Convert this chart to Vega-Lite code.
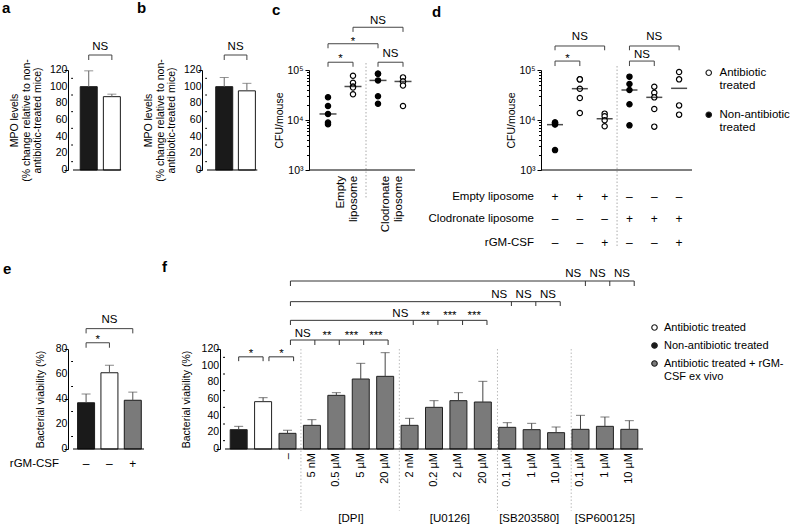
{
"$schema": "https://vega.github.io/schema/vega-lite/v6.json",
"background": "white",
"padding": {"left": 2, "top": 0, "right": 2, "bottom": 0},
"config": {
  "font": "Liberation Sans",
  "view": {"stroke": null},
  "axisX": {"disable": true},
  "axisY": {"domainColor": "#000", "tickColor": "#000", "labelColor": "#000", "titleColor": "#000", "labelFontSize": 10.5, "titleFontSize": 10.5, "titleFontWeight": "normal", "labelPadding": 2, "titlePadding": 2, "grid": false, "labelOverlap": false, "tickSize": 4},
  "title": {"anchor": "start", "frame": "group", "fontSize": 15, "fontWeight": "bold", "baseline": "alphabetic", "offset": 0, "color": "#000"},
  "text": {"fontSize": 11.5, "color": "#000"},
  "legend": {"labelFontSize": 11.5, "labelColor": "#000", "symbolType": "circle", "symbolStrokeColor": "#222", "symbolStrokeWidth": 1.2, "symbolSize": 30, "padding": 0}
},
"datasets": {
  "major120": [{"v": 0}, {"v": 20}, {"v": 40}, {"v": 60}, {"v": 80}, {"v": 100}, {"v": 120}],
  "major80": [{"v": 0}, {"v": 20}, {"v": 40}, {"v": 60}, {"v": 80}],
  "minor120": [{"v": 10}, {"v": 30}, {"v": 50}, {"v": 70}, {"v": 90}, {"v": 110}],
  "minor80": [{"v": 10}, {"v": 30}, {"v": 50}, {"v": 70}],
  "a_bars": [{"pos": 1, "treat": "Non-antibiotic treated", "mean": 100, "err": 119}, {"pos": 2, "treat": "Antibiotic treated", "mean": 88, "err": 91}],
  "b_bars": [{"pos": 1, "treat": "Non-antibiotic treated", "mean": 100, "err": 111}, {"pos": 2, "treat": "Antibiotic treated", "mean": 95, "err": 104}],
  "ab_seg": [{"x": 1, "x2": 1, "y": 132, "y2": 138}, {"x": 1, "x2": 2, "y": 138, "y2": 138}, {"x": 2, "x2": 2, "y": 132, "y2": 138}],
  "ab_lab": [{"x": 1.5, "y": 149, "label": "NS"}],
  "c_pts": [
    {"grp": 1, "slot": 0, "cfu": 28500, "treat": "Non-antibiotic treated"},
    {"grp": 1, "slot": 0, "cfu": 19000, "treat": "Non-antibiotic treated"},
    {"grp": 1, "slot": 0, "cfu": 13200, "treat": "Non-antibiotic treated"},
    {"grp": 1, "slot": -1, "cfu": 8250, "treat": "Non-antibiotic treated"},
    {"grp": 1, "slot": 1, "cfu": 8900, "treat": "Non-antibiotic treated"},
    {"grp": 2, "slot": -1, "cfu": 76900, "treat": "Antibiotic treated"},
    {"grp": 2, "slot": 1, "cfu": 55500, "treat": "Antibiotic treated"},
    {"grp": 2, "slot": -1, "cfu": 46800, "treat": "Antibiotic treated"},
    {"grp": 2, "slot": 1, "cfu": 44700, "treat": "Antibiotic treated"},
    {"grp": 2, "slot": 0, "cfu": 32700, "treat": "Antibiotic treated"},
    {"grp": 3, "slot": -1, "cfu": 84300, "treat": "Non-antibiotic treated"},
    {"grp": 3, "slot": 1, "cfu": 84300, "treat": "Non-antibiotic treated"},
    {"grp": 3, "slot": 0, "cfu": 61900, "treat": "Non-antibiotic treated"},
    {"grp": 3, "slot": 1, "cfu": 29800, "treat": "Non-antibiotic treated"},
    {"grp": 3, "slot": -1, "cfu": 21200, "treat": "Non-antibiotic treated"},
    {"grp": 4, "slot": 0, "cfu": 71100, "treat": "Antibiotic treated"},
    {"grp": 4, "slot": -1, "cfu": 59000, "treat": "Antibiotic treated"},
    {"grp": 4, "slot": 1, "cfu": 59000, "treat": "Antibiotic treated"},
    {"grp": 4, "slot": 0, "cfu": 49000, "treat": "Antibiotic treated"},
    {"grp": 4, "slot": 0, "cfu": 19000, "treat": "Antibiotic treated"}
  ],
  "c_med": [{"grp": 1, "cfu": 13200}, {"grp": 2, "cfu": 46800}, {"grp": 3, "cfu": 61900}, {"grp": 4, "cfu": 59000}],
  "c_seg": [
    {"x": 1, "x2": 1, "y": 116000, "y2": 143000}, {"x": 1, "x2": 2, "y": 143000, "y2": 143000}, {"x": 2, "x2": 2, "y": 116000, "y2": 143000},
    {"x": 1, "x2": 1, "y": 272000, "y2": 335000}, {"x": 1, "x2": 3, "y": 335000, "y2": 335000}, {"x": 3, "x2": 3, "y": 272000, "y2": 335000},
    {"x": 2, "x2": 2, "y": 578000, "y2": 716000}, {"x": 2, "x2": 4, "y": 716000, "y2": 716000}, {"x": 4, "x2": 4, "y": 578000, "y2": 716000},
    {"x": 3, "x2": 3, "y": 116000, "y2": 143000}, {"x": 3, "x2": 4, "y": 143000, "y2": 143000}, {"x": 4, "x2": 4, "y": 116000, "y2": 143000}
  ],
  "c_lab": [{"x": 1.5, "y": 194500, "label": "*"}, {"x": 2, "y": 436500, "label": "*"}, {"x": 3, "y": 1023000, "label": "NS"}, {"x": 3.5, "y": 217000, "label": "NS"}],
  "c_xl": [{"pos": 1.5, "lines": ["Empty", "liposome"]}, {"pos": 3.3, "lines": ["Clodronate", "liposome"]}],
  "d_pts": [
    {"grp": 1, "slot": -1, "cfu": 8900, "treat": "Non-antibiotic treated"},
    {"grp": 1, "slot": 1, "cfu": 8900, "treat": "Non-antibiotic treated"},
    {"grp": 1, "slot": 0, "cfu": 8100, "treat": "Non-antibiotic treated"},
    {"grp": 1, "slot": 0, "cfu": 8300, "treat": "Non-antibiotic treated"},
    {"grp": 1, "slot": 0, "cfu": 2500, "treat": "Non-antibiotic treated"},
    {"grp": 2, "slot": -1, "cfu": 65000, "treat": "Antibiotic treated"},
    {"grp": 2, "slot": 1, "cfu": 65000, "treat": "Antibiotic treated"},
    {"grp": 2, "slot": 0, "cfu": 42300, "treat": "Antibiotic treated"},
    {"grp": 2, "slot": 0, "cfu": 27500, "treat": "Antibiotic treated"},
    {"grp": 2, "slot": 0, "cfu": 13800, "treat": "Antibiotic treated"},
    {"grp": 3, "slot": -1, "cfu": 13400, "treat": "Antibiotic treated"},
    {"grp": 3, "slot": 2, "cfu": 11900, "treat": "Antibiotic treated"},
    {"grp": 3, "slot": 1, "cfu": 9860, "treat": "Antibiotic treated"},
    {"grp": 3, "slot": -1, "cfu": 7480, "treat": "Antibiotic treated"},
    {"grp": 4, "slot": 0, "cfu": 73600, "treat": "Non-antibiotic treated"},
    {"grp": 4, "slot": 1, "cfu": 52500, "treat": "Non-antibiotic treated"},
    {"grp": 4, "slot": -1, "cfu": 39800, "treat": "Non-antibiotic treated"},
    {"grp": 4, "slot": 0, "cfu": 20600, "treat": "Non-antibiotic treated"},
    {"grp": 4, "slot": 0, "cfu": 7820, "treat": "Non-antibiotic treated"},
    {"grp": 5, "slot": 0, "cfu": 46400, "treat": "Antibiotic treated"},
    {"grp": 5, "slot": 1, "cfu": 35200, "treat": "Antibiotic treated"},
    {"grp": 5, "slot": -1, "cfu": 28400, "treat": "Antibiotic treated"},
    {"grp": 5, "slot": 0, "cfu": 16600, "treat": "Antibiotic treated"},
    {"grp": 5, "slot": 0, "cfu": 7360, "treat": "Antibiotic treated"},
    {"grp": 6, "slot": 1, "cfu": 91200, "treat": "Antibiotic treated"},
    {"grp": 6, "slot": -1, "cfu": 65000, "treat": "Antibiotic treated"},
    {"grp": 6, "slot": 0, "cfu": 19600, "treat": "Antibiotic treated"},
    {"grp": 6, "slot": 0, "cfu": 12800, "treat": "Antibiotic treated"}
  ],
  "d_med": [{"grp": 1, "cfu": 8070}, {"grp": 2, "cfu": 42300}, {"grp": 3, "cfu": 10600}, {"grp": 4, "cfu": 39800}, {"grp": 5, "cfu": 28400}, {"grp": 6, "cfu": 43000}],
  "d_seg": [
    {"x": 1, "x2": 1, "y": 120000, "y2": 151000}, {"x": 1, "x2": 2, "y": 151000, "y2": 151000}, {"x": 2, "x2": 2, "y": 120000, "y2": 151000},
    {"x": 1, "x2": 1, "y": 248000, "y2": 302000}, {"x": 1, "x2": 3, "y": 302000, "y2": 302000}, {"x": 3, "x2": 3, "y": 248000, "y2": 302000},
    {"x": 4, "x2": 4, "y": 120000, "y2": 151000}, {"x": 4, "x2": 5, "y": 151000, "y2": 151000}, {"x": 5, "x2": 5, "y": 120000, "y2": 151000},
    {"x": 4, "x2": 4, "y": 248000, "y2": 302000}, {"x": 4, "x2": 6, "y": 302000, "y2": 302000}, {"x": 6, "x2": 6, "y": 248000, "y2": 302000}
  ],
  "d_lab": [{"x": 1.5, "y": 202000, "label": "*"}, {"x": 2, "y": 472000, "label": "NS"}, {"x": 4.5, "y": 212000, "label": "NS"}, {"x": 5, "y": 472000, "label": "NS"}],
  "d_tab": [
    {"grp": 1, "row": "Empty liposome", "sign": "+"}, {"grp": 2, "row": "Empty liposome", "sign": "+"}, {"grp": 3, "row": "Empty liposome", "sign": "+"},
    {"grp": 4, "row": "Empty liposome", "sign": "–"}, {"grp": 5, "row": "Empty liposome", "sign": "–"}, {"grp": 6, "row": "Empty liposome", "sign": "–"},
    {"grp": 1, "row": "Clodronate liposome", "sign": "–"}, {"grp": 2, "row": "Clodronate liposome", "sign": "–"}, {"grp": 3, "row": "Clodronate liposome", "sign": "–"},
    {"grp": 4, "row": "Clodronate liposome", "sign": "+"}, {"grp": 5, "row": "Clodronate liposome", "sign": "+"}, {"grp": 6, "row": "Clodronate liposome", "sign": "+"},
    {"grp": 1, "row": "rGM-CSF", "sign": "–"}, {"grp": 2, "row": "rGM-CSF", "sign": "–"}, {"grp": 3, "row": "rGM-CSF", "sign": "+"},
    {"grp": 4, "row": "rGM-CSF", "sign": "–"}, {"grp": 5, "row": "rGM-CSF", "sign": "–"}, {"grp": 6, "row": "rGM-CSF", "sign": "+"}
  ],
  "e_bars": [
    {"pos": 1, "treat": "Non-antibiotic treated", "rgm": "–", "mean": 37, "err": 44},
    {"pos": 2, "treat": "Antibiotic treated", "rgm": "–", "mean": 61, "err": 67},
    {"pos": 3, "treat": "Antibiotic treated + rGM-CSF ex vivo", "rgm": "+", "mean": 39, "err": 45.5}
  ],
  "e_seg": [
    {"x": 1, "x2": 1, "y": 81, "y2": 85}, {"x": 1, "x2": 2, "y": 85, "y2": 85}, {"x": 2, "x2": 2, "y": 81, "y2": 85},
    {"x": 1, "x2": 1, "y": 92.5, "y2": 96.3}, {"x": 1, "x2": 3, "y": 96.3, "y2": 96.3}, {"x": 3, "x2": 3, "y": 92.5, "y2": 96.3}
  ],
  "e_lab": [{"x": 1.5, "y": 90.4, "label": "*"}, {"x": 2, "y": 103.8, "label": "NS"}],
  "f_bars": [
    {"pos": 1, "treat": "Non-antibiotic treated", "drug": "", "dose": "", "mean": 23.2, "err": 27.2},
    {"pos": 2, "treat": "Antibiotic treated", "drug": "", "dose": "", "mean": 56.8, "err": 61.6},
    {"pos": 3, "treat": "Antibiotic treated + rGM-CSF ex vivo", "drug": "none", "dose": "–", "mean": 18.8, "err": 22.4},
    {"pos": 4, "treat": "Antibiotic treated + rGM-CSF ex vivo", "drug": "DPI", "dose": "5 nM", "mean": 28.4, "err": 35.2},
    {"pos": 5, "treat": "Antibiotic treated + rGM-CSF ex vivo", "drug": "DPI", "dose": "0.5 µM", "mean": 64.4, "err": 67.6},
    {"pos": 6, "treat": "Antibiotic treated + rGM-CSF ex vivo", "drug": "DPI", "dose": "5 µM", "mean": 84, "err": 102.8},
    {"pos": 7, "treat": "Antibiotic treated + rGM-CSF ex vivo", "drug": "DPI", "dose": "20 µM", "mean": 87.2, "err": 115.6},
    {"pos": 8, "treat": "Antibiotic treated + rGM-CSF ex vivo", "drug": "U0126", "dose": "2 nM", "mean": 28.4, "err": 36.8},
    {"pos": 9, "treat": "Antibiotic treated + rGM-CSF ex vivo", "drug": "U0126", "dose": "0.2 µM", "mean": 50, "err": 58},
    {"pos": 10, "treat": "Antibiotic treated + rGM-CSF ex vivo", "drug": "U0126", "dose": "2 µM", "mean": 58, "err": 67.6},
    {"pos": 11, "treat": "Antibiotic treated + rGM-CSF ex vivo", "drug": "U0126", "dose": "20 µM", "mean": 56.4, "err": 81.2},
    {"pos": 12, "treat": "Antibiotic treated + rGM-CSF ex vivo", "drug": "SB203580", "dose": "0.1 µM", "mean": 26, "err": 31.6},
    {"pos": 13, "treat": "Antibiotic treated + rGM-CSF ex vivo", "drug": "SB203580", "dose": "1 µM", "mean": 23.2, "err": 30.8},
    {"pos": 14, "treat": "Antibiotic treated + rGM-CSF ex vivo", "drug": "SB203580", "dose": "10 µM", "mean": 19.6, "err": 26.4},
    {"pos": 15, "treat": "Antibiotic treated + rGM-CSF ex vivo", "drug": "SP600125", "dose": "0.1 µM", "mean": 23.6, "err": 40.4},
    {"pos": 16, "treat": "Antibiotic treated + rGM-CSF ex vivo", "drug": "SP600125", "dose": "1 µM", "mean": 27.2, "err": 38.4},
    {"pos": 17, "treat": "Antibiotic treated + rGM-CSF ex vivo", "drug": "SP600125", "dose": "10 µM", "mean": 23.6, "err": 34}
  ],
  "f_seg": [
    {"x": 1, "x2": 1, "y": 105.4, "y2": 110.6}, {"x": 1, "x2": 2, "y": 110.6, "y2": 110.6}, {"x": 2, "x2": 2, "y": 105.4, "y2": 110.6},
    {"x": 2.24, "x2": 2.24, "y": 105.4, "y2": 110.6}, {"x": 2.24, "x2": 3.25, "y": 110.6, "y2": 110.6}, {"x": 3.25, "x2": 3.25, "y": 105.4, "y2": 110.6},
    {"x": 3.12, "x2": 7.12, "y": 130.8, "y2": 130.8},
    {"x": 3.12, "x2": 3.12, "y": 124.8, "y2": 130.8}, {"x": 4.12, "x2": 4.12, "y": 124.8, "y2": 130.8}, {"x": 5.12, "x2": 5.12, "y": 124.8, "y2": 130.8}, {"x": 6.12, "x2": 6.12, "y": 124.8, "y2": 130.8}, {"x": 7.12, "x2": 7.12, "y": 124.8, "y2": 130.8},
    {"x": 3.12, "x2": 11.17, "y": 154.4, "y2": 154.4},
    {"x": 3.12, "x2": 3.12, "y": 148.8, "y2": 154.4}, {"x": 8.15, "x2": 8.15, "y": 148.8, "y2": 154.4}, {"x": 9.16, "x2": 9.16, "y": 148.8, "y2": 154.4}, {"x": 10.17, "x2": 10.17, "y": 148.8, "y2": 154.4}, {"x": 11.17, "x2": 11.17, "y": 148.8, "y2": 154.4},
    {"x": 3.12, "x2": 14.17, "y": 176.8, "y2": 176.8},
    {"x": 3.12, "x2": 3.12, "y": 171.6, "y2": 176.8}, {"x": 12.17, "x2": 12.17, "y": 171.6, "y2": 176.8}, {"x": 13.17, "x2": 13.17, "y": 171.6, "y2": 176.8}, {"x": 14.17, "x2": 14.17, "y": 171.6, "y2": 176.8},
    {"x": 3.12, "x2": 17.2, "y": 201.6, "y2": 201.6},
    {"x": 3.12, "x2": 3.12, "y": 195.6, "y2": 201.6}, {"x": 15.2, "x2": 15.2, "y": 195.6, "y2": 201.6}, {"x": 16.2, "x2": 16.2, "y": 195.6, "y2": 201.6}, {"x": 17.2, "x2": 17.2, "y": 195.6, "y2": 201.6}
  ],
  "f_lab": [
    {"x": 1.5, "y": 118.4, "label": "*"}, {"x": 2.75, "y": 118.4, "label": "*"},
    {"x": 3.62, "y": 139.6, "label": "NS"}, {"x": 4.62, "y": 139.6, "label": "**"}, {"x": 5.62, "y": 139.6, "label": "***"}, {"x": 6.62, "y": 139.6, "label": "***"},
    {"x": 7.62, "y": 163.6, "label": "NS"}, {"x": 8.65, "y": 163.6, "label": "**"}, {"x": 9.65, "y": 163.6, "label": "***"}, {"x": 10.65, "y": 163.6, "label": "***"},
    {"x": 11.67, "y": 186.4, "label": "NS"}, {"x": 12.67, "y": 186.4, "label": "NS"}, {"x": 13.67, "y": 186.4, "label": "NS"},
    {"x": 14.7, "y": 211.6, "label": "NS"}, {"x": 15.7, "y": 211.6, "label": "NS"}, {"x": 16.7, "y": 211.6, "label": "NS"}
  ],
  "f_sep": [{"x": 3.55}, {"x": 7.58}, {"x": 11.6}, {"x": 14.62}],
  "f_grp": [{"x": 5.6, "label": "[DPI]"}, {"x": 9.65, "label": "[U0126]"}, {"x": 12.9, "label": "[SB203580]"}, {"x": 16, "label": "[SP600125]"}]
},
"bounds": "flush",
"spacing": 279,
"resolve": {"scale": {"fill": "independent"}},
"vconcat": [
 {
  "bounds": "flush",
  "spacing": 0,
  "resolve": {"scale": {"fill": "independent"}},
  "hconcat": [
  {
    "title": {"text": "a", "dx": -66, "dy": -21},
    "width": 134, "height": 100,
    "layer": [
      {"data": {"name": "a_bars"}, "mark": {"type": "bar", "orient": "vertical", "size": 17, "stroke": "#1a1a1a", "strokeWidth": 1},
       "encoding": {
         "x": {"field": "pos", "type": "quantitative", "scale": {"domain": [0.32, 5.68], "nice": false, "zero": false}},
         "y": {"field": "mean", "type": "quantitative", "scale": {"domain": [0, 120], "nice": false},
               "axis": {"title": ["MPO levels", "(% change relative to non-", "antibiotic-treated mice)"], "titleLineHeight": 11.5, "labels": false, "titlePadding": 21, "values": [0, 20, 40, 60, 80, 100, 120]}},
         "fill": {"field": "treat", "type": "nominal", "scale": {"domain": ["Non-antibiotic treated", "Antibiotic treated"], "range": ["#1a1a1a", "#ffffff"]}, "legend": null}}},
      {"data": {"name": "major120"}, "mark": {"type": "text", "align": "right", "baseline": "middle", "fontSize": 10.5}, "encoding": {"x": {"datum": 0.08}, "y": {"field": "v", "type": "quantitative"}, "text": {"field": "v", "type": "quantitative"}}},
      {"data": {"name": "minor120"}, "mark": {"type": "rule", "color": "#000"}, "encoding": {"x": {"datum": 0.24}, "x2": {"datum": 0.32}, "y": {"field": "v", "type": "quantitative"}}},
      {"data": {"name": "a_bars"}, "mark": {"type": "rule", "color": "#666"}, "encoding": {"x": {"field": "pos", "type": "quantitative"}, "y": {"field": "mean", "type": "quantitative"}, "y2": {"field": "err"}}},
      {"data": {"name": "a_bars"}, "mark": {"type": "tick", "orient": "horizontal", "size": 9, "thickness": 1, "color": "#666"}, "encoding": {"x": {"field": "pos", "type": "quantitative"}, "y": {"field": "err", "type": "quantitative"}}},
      {"data": {"values": [{}]}, "mark": {"type": "rule", "color": "#000"}, "encoding": {"x": {"datum": 0.32}, "x2": {"datum": 2.4}, "y": {"datum": 0}}},
      {"data": {"name": "ab_seg"}, "mark": {"type": "rule", "color": "#444"}, "encoding": {"x": {"field": "x", "type": "quantitative"}, "x2": {"field": "x2"}, "y": {"field": "y", "type": "quantitative"}, "y2": {"field": "y2"}}},
      {"data": {"name": "ab_lab"}, "mark": {"type": "text", "baseline": "alphabetic", "dy": 4}, "encoding": {"x": {"field": "x", "type": "quantitative"}, "y": {"field": "y", "type": "quantitative"}, "text": {"field": "label"}}}
    ]
  },
  {
    "title": {"text": "b", "dx": -65, "dy": -21},
    "width": 107, "height": 100,
    "layer": [
      {"data": {"name": "b_bars"}, "mark": {"type": "bar", "orient": "vertical", "size": 17, "stroke": "#1a1a1a", "strokeWidth": 1},
       "encoding": {
         "x": {"field": "pos", "type": "quantitative", "scale": {"domain": [0.24, 4.52], "nice": false, "zero": false}},
         "y": {"field": "mean", "type": "quantitative", "scale": {"domain": [0, 120], "nice": false},
               "axis": {"title": ["MPO levels", "(% change relative to non-", "antibiotic-treated mice)"], "titleLineHeight": 11.5, "labels": false, "titlePadding": 21, "values": [0, 20, 40, 60, 80, 100, 120]}},
         "fill": {"field": "treat", "type": "nominal", "scale": {"domain": ["Non-antibiotic treated", "Antibiotic treated"], "range": ["#1a1a1a", "#ffffff"]}, "legend": null}}},
      {"data": {"name": "major120"}, "mark": {"type": "text", "align": "right", "baseline": "middle", "fontSize": 10.5}, "encoding": {"x": {"datum": 0.0}, "y": {"field": "v", "type": "quantitative"}, "text": {"field": "v", "type": "quantitative"}}},
      {"data": {"name": "minor120"}, "mark": {"type": "rule", "color": "#000"}, "encoding": {"x": {"datum": 0.16}, "x2": {"datum": 0.24}, "y": {"field": "v", "type": "quantitative"}}},
      {"data": {"name": "b_bars"}, "mark": {"type": "rule", "color": "#666"}, "encoding": {"x": {"field": "pos", "type": "quantitative"}, "y": {"field": "mean", "type": "quantitative"}, "y2": {"field": "err"}}},
      {"data": {"name": "b_bars"}, "mark": {"type": "tick", "orient": "horizontal", "size": 9, "thickness": 1, "color": "#666"}, "encoding": {"x": {"field": "pos", "type": "quantitative"}, "y": {"field": "err", "type": "quantitative"}}},
      {"data": {"values": [{}]}, "mark": {"type": "rule", "color": "#000"}, "encoding": {"x": {"datum": 0.24}, "x2": {"datum": 2.46}, "y": {"datum": 0}}},
      {"data": {"name": "ab_seg"}, "mark": {"type": "rule", "color": "#444"}, "encoding": {"x": {"field": "x", "type": "quantitative"}, "x2": {"field": "x2"}, "y": {"field": "y", "type": "quantitative"}, "y2": {"field": "y2"}}},
      {"data": {"name": "ab_lab"}, "mark": {"type": "text", "baseline": "alphabetic", "dy": 4}, "encoding": {"x": {"field": "x", "type": "quantitative"}, "y": {"field": "y", "type": "quantitative"}, "text": {"field": "label"}}}
    ]
  },
  {
    "title": {"text": "c", "dx": -37, "dy": 7},
    "width": 232, "height": 100,
    "layer": [
      {"data": {"values": [{}]}, "mark": {"type": "rule", "color": "#aaa", "strokeDash": [1.5, 2]}, "encoding": {"x": {"datum": 2.52}, "y": {"datum": 138000}, "y2": {"datum": 260}}},
      {"data": {"name": "c_pts"}, "mark": {"type": "point", "shape": "circle", "filled": true, "size": 28, "stroke": "#000", "strokeWidth": 1.2, "opacity": 1},
       "encoding": {
         "x": {"field": "grp", "type": "quantitative", "scale": {"domain": [0.24, 9.52], "nice": false, "zero": false}},
         "xOffset": {"field": "slot", "type": "quantitative", "scale": {"domain": [-1, 1], "range": [-4, 4]}},
         "y": {"field": "cfu", "type": "quantitative", "scale": {"type": "log", "domain": [1000, 100000], "nice": false},
               "axis": {"title": "CFU/mouse", "labelOverlap": false, "values": [1000, 2000, 3000, 4000, 5000, 6000, 7000, 8000, 9000, 10000, 20000, 30000, 40000, 50000, 60000, 70000, 80000, 90000, 100000], "labelExpr": "datum.value == 1000 ? '10³' : datum.value == 10000 ? '10⁴' : datum.value == 100000 ? '10⁵' : ''", "tickSize": {"condition": {"test": "datum.value == 1000 || datum.value == 10000 || datum.value == 100000", "value": 4}, "value": 2.5}}},
         "fill": {"field": "treat", "type": "nominal", "scale": {"domain": ["Antibiotic treated", "Non-antibiotic treated"], "range": ["#ffffff", "#000000"]}, "legend": null}}},
      {"data": {"name": "c_med"}, "mark": {"type": "tick", "orient": "horizontal", "size": 17, "thickness": 1.5, "color": "#000"}, "encoding": {"x": {"field": "grp", "type": "quantitative"}, "y": {"field": "cfu", "type": "quantitative"}}},
      {"data": {"values": [{}]}, "mark": {"type": "rule", "color": "#000"}, "encoding": {"x": {"datum": 0.24}, "x2": {"datum": 4.48}, "y": {"datum": 1000}}},
      {"data": {"name": "c_seg"}, "mark": {"type": "rule", "color": "#444"}, "encoding": {"x": {"field": "x", "type": "quantitative"}, "x2": {"field": "x2"}, "y": {"field": "y", "type": "quantitative"}, "y2": {"field": "y2"}}},
      {"data": {"name": "c_lab"}, "transform": [{"filter": "datum.label === 'NS'"}], "mark": {"type": "text", "baseline": "alphabetic", "dy": 4}, "encoding": {"x": {"field": "x", "type": "quantitative"}, "y": {"field": "y", "type": "quantitative"}, "text": {"field": "label"}}},
      {"data": {"name": "c_lab"}, "transform": [{"filter": "datum.label !== 'NS'"}], "mark": {"type": "text", "baseline": "alphabetic", "dy": 6.8}, "encoding": {"x": {"field": "x", "type": "quantitative"}, "y": {"field": "y", "type": "quantitative"}, "text": {"field": "label"}}},
      {"data": {"name": "c_xl"}, "mark": {"type": "text", "angle": 270, "align": "right", "baseline": "middle", "lineHeight": 13}, "encoding": {"x": {"field": "pos", "type": "quantitative"}, "y": {"datum": 760}, "text": {"field": "lines", "type": "nominal"}}}
    ]
  },
  {
    "title": {"text": "d", "dx": -109, "dy": -7},
    "width": 151, "height": 100,
    "layer": [
      {"data": {"values": [{}]}, "mark": {"type": "rule", "color": "#aaa", "strokeDash": [1.5, 2]}, "encoding": {"x": {"datum": 3.5}, "y": {"datum": 120000}, "y2": {"datum": 29}}},
      {"data": {"name": "d_pts"}, "mark": {"type": "point", "shape": "circle", "filled": true, "size": 28, "stroke": "#000", "strokeWidth": 1.2, "opacity": 1},
       "encoding": {
         "x": {"field": "grp", "type": "quantitative", "scale": {"domain": [0.435, 6.52], "nice": false, "zero": false}},
         "xOffset": {"field": "slot", "type": "quantitative", "scale": {"domain": [-1, 1], "range": [-4, 4]}},
         "y": {"field": "cfu", "type": "quantitative", "scale": {"type": "log", "domain": [1000, 100000], "nice": false},
               "axis": {"title": "CFU/mouse", "labelOverlap": false, "values": [1000, 2000, 3000, 4000, 5000, 6000, 7000, 8000, 9000, 10000, 20000, 30000, 40000, 50000, 60000, 70000, 80000, 90000, 100000], "labelExpr": "datum.value == 1000 ? '10³' : datum.value == 10000 ? '10⁴' : datum.value == 100000 ? '10⁵' : ''", "tickSize": {"condition": {"test": "datum.value == 1000 || datum.value == 10000 || datum.value == 100000", "value": 4}, "value": 2.5}}},
         "fill": {"field": "treat", "type": "nominal", "scale": {"domain": ["Antibiotic treated", "Non-antibiotic treated"], "range": ["#ffffff", "#000000"]},
                  "legend": {"orient": "none", "legendX": 162, "legendY": -3, "title": null, "labelExpr": "split(datum.label, ' ')", "rowPadding": 16, "labelOffset": 5}}}},
      {"data": {"name": "d_med"}, "mark": {"type": "tick", "orient": "horizontal", "size": 16, "thickness": 1.5, "color": "#000"}, "encoding": {"x": {"field": "grp", "type": "quantitative"}, "y": {"field": "cfu", "type": "quantitative"}}},
      {"data": {"values": [{}]}, "mark": {"type": "rule", "color": "#000"}, "encoding": {"x": {"datum": 0.435}, "x2": {"datum": 6.52}, "y": {"datum": 1000}}},
      {"data": {"name": "d_seg"}, "mark": {"type": "rule", "color": "#444"}, "encoding": {"x": {"field": "x", "type": "quantitative"}, "x2": {"field": "x2"}, "y": {"field": "y", "type": "quantitative"}, "y2": {"field": "y2"}}},
      {"data": {"name": "d_lab"}, "transform": [{"filter": "datum.label === 'NS'"}], "mark": {"type": "text", "baseline": "alphabetic", "dy": 4}, "encoding": {"x": {"field": "x", "type": "quantitative"}, "y": {"field": "y", "type": "quantitative"}, "text": {"field": "label"}}},
      {"data": {"name": "d_lab"}, "transform": [{"filter": "datum.label !== 'NS'"}], "mark": {"type": "text", "baseline": "alphabetic", "dy": 6.8}, "encoding": {"x": {"field": "x", "type": "quantitative"}, "y": {"field": "y", "type": "quantitative"}, "text": {"field": "label"}}},
      {"data": {"name": "d_tab"}, "transform": [{"filter": "datum.row === 'Empty liposome'"}], "mark": {"type": "text", "baseline": "middle", "fontSize": 12}, "encoding": {"x": {"field": "grp", "type": "quantitative"}, "y": {"datum": 290}, "text": {"field": "sign"}}},
      {"data": {"name": "d_tab"}, "transform": [{"filter": "datum.row === 'Clodronate liposome'"}], "mark": {"type": "text", "baseline": "middle", "fontSize": 12}, "encoding": {"x": {"field": "grp", "type": "quantitative"}, "y": {"datum": 105}, "text": {"field": "sign"}}},
      {"data": {"name": "d_tab"}, "transform": [{"filter": "datum.row === 'rGM-CSF'"}], "mark": {"type": "text", "baseline": "middle", "fontSize": 12}, "encoding": {"x": {"field": "grp", "type": "quantitative"}, "y": {"datum": 35}, "text": {"field": "sign"}}},
      {"data": {"values": [{"label": "Empty liposome"}]}, "mark": {"type": "text", "align": "right", "baseline": "middle"}, "encoding": {"x": {"datum": 0.153}, "y": {"datum": 290}, "text": {"field": "label"}}},
      {"data": {"values": [{"label": "Clodronate liposome"}]}, "mark": {"type": "text", "align": "right", "baseline": "middle"}, "encoding": {"x": {"datum": 0.153}, "y": {"datum": 105}, "text": {"field": "label"}}},
      {"data": {"values": [{"label": "rGM-CSF"}]}, "mark": {"type": "text", "align": "right", "baseline": "middle"}, "encoding": {"x": {"datum": 0.153}, "y": {"datum": 35}, "text": {"field": "label"}}}
    ]
  }
  ]
 },
 {
  "bounds": "flush",
  "spacing": 0,
  "resolve": {"scale": {"fill": "independent"}},
  "hconcat": [
  {
    "title": {"text": "e", "dx": -65, "dy": -33},
    "width": 152, "height": 100,
    "layer": [
      {"data": {"name": "e_bars"}, "mark": {"type": "bar", "orient": "vertical", "size": 17, "stroke": "#1a1a1a", "strokeWidth": 1},
       "encoding": {
         "x": {"field": "pos", "type": "quantitative", "scale": {"domain": [0.44, 6.52], "nice": false, "zero": false}},
         "y": {"field": "mean", "type": "quantitative", "scale": {"domain": [0, 80], "nice": false},
               "axis": {"title": "Bacterial viability (%)", "labels": false, "titlePadding": 18, "values": [0, 20, 40, 60, 80]}},
         "fill": {"field": "treat", "type": "nominal", "scale": {"domain": ["Non-antibiotic treated", "Antibiotic treated", "Antibiotic treated + rGM-CSF ex vivo"], "range": ["#1a1a1a", "#ffffff", "#7a7a7a"]}, "legend": null}}},
      {"data": {"name": "major80"}, "mark": {"type": "text", "align": "right", "baseline": "middle", "fontSize": 10.5}, "encoding": {"x": {"datum": 0.2}, "y": {"field": "v", "type": "quantitative"}, "text": {"field": "v", "type": "quantitative"}}},
      {"data": {"name": "minor80"}, "mark": {"type": "rule", "color": "#000"}, "encoding": {"x": {"datum": 0.36}, "x2": {"datum": 0.44}, "y": {"field": "v", "type": "quantitative"}}},
      {"data": {"name": "e_bars"}, "mark": {"type": "rule", "color": "#555"}, "encoding": {"x": {"field": "pos", "type": "quantitative"}, "y": {"field": "mean", "type": "quantitative"}, "y2": {"field": "err"}}},
      {"data": {"name": "e_bars"}, "mark": {"type": "tick", "orient": "horizontal", "size": 9, "thickness": 1, "color": "#555"}, "encoding": {"x": {"field": "pos", "type": "quantitative"}, "y": {"field": "err", "type": "quantitative"}}},
      {"data": {"values": [{}]}, "mark": {"type": "rule", "color": "#000"}, "encoding": {"x": {"datum": 0.44}, "x2": {"datum": 3.48}, "y": {"datum": 0}}},
      {"data": {"name": "e_seg"}, "mark": {"type": "rule", "color": "#444"}, "encoding": {"x": {"field": "x", "type": "quantitative"}, "x2": {"field": "x2"}, "y": {"field": "y", "type": "quantitative"}, "y2": {"field": "y2"}}},
      {"data": {"name": "e_lab"}, "transform": [{"filter": "datum.label === 'NS'"}], "mark": {"type": "text", "baseline": "alphabetic", "dy": 4}, "encoding": {"x": {"field": "x", "type": "quantitative"}, "y": {"field": "y", "type": "quantitative"}, "text": {"field": "label"}}},
      {"data": {"name": "e_lab"}, "transform": [{"filter": "datum.label !== 'NS'"}], "mark": {"type": "text", "baseline": "alphabetic", "dy": 6.8}, "encoding": {"x": {"field": "x", "type": "quantitative"}, "y": {"field": "y", "type": "quantitative"}, "text": {"field": "label"}}},
      {"data": {"name": "e_bars"}, "mark": {"type": "text", "baseline": "middle", "fontSize": 12}, "encoding": {"x": {"field": "pos", "type": "quantitative"}, "y": {"datum": -12}, "text": {"field": "rgm"}}},
      {"data": {"values": [{"label": "rGM-CSF"}]}, "mark": {"type": "text", "align": "right", "baseline": "middle"}, "encoding": {"x": {"datum": -0.16}, "y": {"datum": -12}, "text": {"field": "label"}}}
    ]
  },
  {
    "title": {"text": "f", "dx": -58, "dy": 11},
    "width": 428, "height": 100,
    "layer": [
      {"data": {"name": "f_sep"}, "mark": {"type": "rule", "color": "#bbb", "strokeDash": [1.5, 2]}, "encoding": {"x": {"field": "x", "type": "quantitative"}, "y": {"datum": 120}, "y2": {"datum": -74}}},
      {"data": {"name": "f_bars"}, "mark": {"type": "bar", "orient": "vertical", "size": 17, "stroke": "#222", "strokeWidth": 1},
       "encoding": {
         "x": {"field": "pos", "type": "quantitative", "scale": {"domain": [0.44, 17.56], "nice": false, "zero": false}},
         "y": {"field": "mean", "type": "quantitative", "scale": {"domain": [0, 120], "nice": false},
               "axis": {"title": "Bacterial viability (%)", "labels": false, "titlePadding": 24, "values": [0, 20, 40, 60, 80, 100, 120]}},
         "fill": {"field": "treat", "type": "nominal", "scale": {"domain": ["Antibiotic treated", "Non-antibiotic treated", "Antibiotic treated + rGM-CSF ex vivo"], "range": ["#ffffff", "#1a1a1a", "#7a7a7a"]},
                  "legend": {"orient": "none", "legendX": 429, "legendY": -27, "title": null, "rowPadding": 6, "labelOffset": 4, "labelFontSize": 11, "labelExpr": "datum.label == 'Antibiotic treated + rGM-CSF ex vivo' ? ['Antibiotic treated + rGM-', 'CSF ex vivo'] : datum.label"}}}},
      {"data": {"name": "major120"}, "mark": {"type": "text", "align": "right", "baseline": "middle", "fontSize": 10.5}, "encoding": {"x": {"datum": 0.2}, "y": {"field": "v", "type": "quantitative"}, "text": {"field": "v", "type": "quantitative"}}},
      {"data": {"name": "minor120"}, "mark": {"type": "rule", "color": "#000"}, "encoding": {"x": {"datum": 0.36}, "x2": {"datum": 0.44}, "y": {"field": "v", "type": "quantitative"}}},
      {"data": {"name": "f_bars"}, "mark": {"type": "rule", "color": "#444"}, "encoding": {"x": {"field": "pos", "type": "quantitative"}, "y": {"field": "mean", "type": "quantitative"}, "y2": {"field": "err"}}},
      {"data": {"name": "f_bars"}, "mark": {"type": "tick", "orient": "horizontal", "size": 9, "thickness": 1, "color": "#444"}, "encoding": {"x": {"field": "pos", "type": "quantitative"}, "y": {"field": "err", "type": "quantitative"}}},
      {"data": {"values": [{}]}, "mark": {"type": "rule", "color": "#000"}, "encoding": {"x": {"datum": 0.44}, "x2": {"datum": 17.56}, "y": {"datum": 0}}},
      {"data": {"name": "f_seg"}, "mark": {"type": "rule", "color": "#333"}, "encoding": {"x": {"field": "x", "type": "quantitative"}, "x2": {"field": "x2"}, "y": {"field": "y", "type": "quantitative"}, "y2": {"field": "y2"}}},
      {"data": {"name": "f_lab"}, "transform": [{"filter": "datum.label === 'NS'"}], "mark": {"type": "text", "baseline": "alphabetic", "dy": 4}, "encoding": {"x": {"field": "x", "type": "quantitative"}, "y": {"field": "y", "type": "quantitative"}, "text": {"field": "label"}}},
      {"data": {"name": "f_lab"}, "transform": [{"filter": "datum.label !== 'NS'"}], "mark": {"type": "text", "baseline": "alphabetic", "dy": 6.8}, "encoding": {"x": {"field": "x", "type": "quantitative"}, "y": {"field": "y", "type": "quantitative"}, "text": {"field": "label"}}},
      {"data": {"name": "f_bars"}, "transform": [{"filter": "datum.dose !== ''"}], "mark": {"type": "text", "angle": 270, "align": "right", "baseline": "middle", "fontSize": 11}, "encoding": {"x": {"field": "pos", "type": "quantitative"}, "y": {"datum": -4.8}, "text": {"field": "dose"}}},
      {"data": {"name": "f_grp"}, "mark": {"type": "text", "baseline": "middle"}, "encoding": {"x": {"field": "x", "type": "quantitative"}, "y": {"datum": -84}, "text": {"field": "label"}}}
    ]
  }
  ]
 }
]
}
